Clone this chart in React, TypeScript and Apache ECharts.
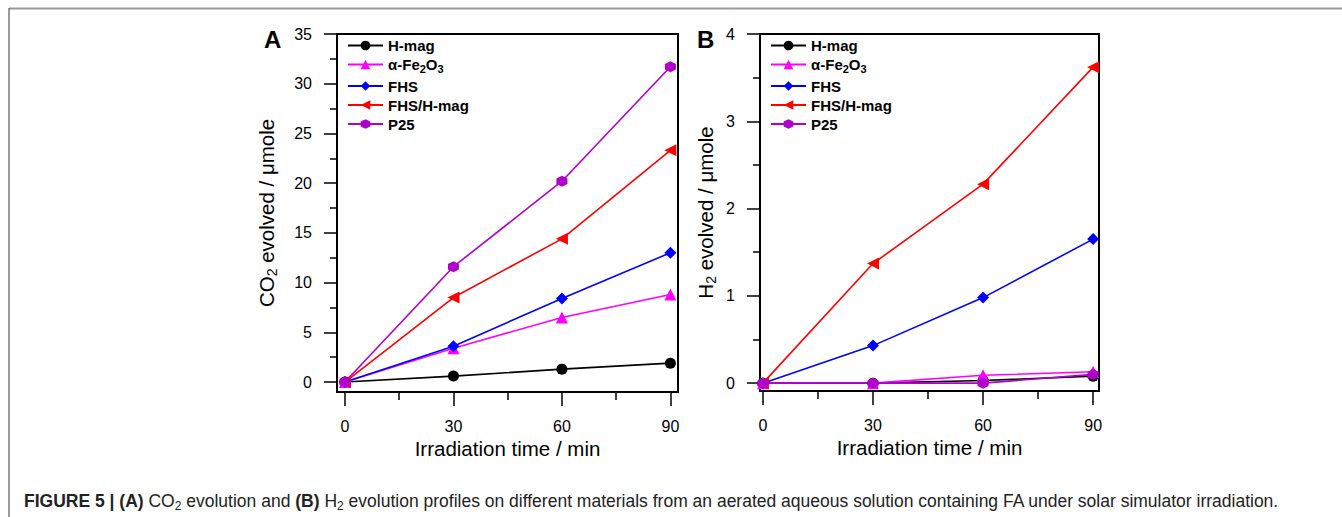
import React, { useEffect, useRef } from "react";
import * as echarts from "echarts";

const times = [0, 30, 60, 90];
const seriesNames = ["H-mag", "α-Fe2O3", "FHS", "FHS/H-mag", "P25"];

// Panel A: CO2 evolved / µmole
const co2HMag = [0, 0.6, 1.3, 1.9];
const co2Fe2O3 = [0, 3.4, 6.5, 8.8];
const co2FHS = [0, 3.6, 8.4, 13.0];
const co2FHSHMag = [0, 8.5, 14.4, 23.3];
const co2P25 = [0, 11.6, 20.2, 31.7];

// Panel B: H2 evolved / µmole
const h2HMag = [0, 0, 0.03, 0.08];
const h2Fe2O3 = [0, 0, 0.09, 0.13];
const h2FHS = [0, 0.43, 0.98, 1.65];
const h2FHSHMag = [0, 1.37, 2.28, 3.62];
const h2P25 = [0, 0, 0, 0.1];

const xTicks = [0, 30, 60, 90];
const xMinorTicks = [15, 45, 75];
const yTicksA = [0, 5, 10, 15, 20, 25, 30, 35];
const yMinorTicksA = [2.5, 7.5, 12.5, 17.5, 22.5, 27.5, 32.5];
const yTicksB = [0, 1, 2, 3, 4];
const yMinorTicksB = [0.5, 1.5, 2.5, 3.5];

const colors = ["#000000", "#ff00ff", "#0000ff", "#ff0000", "#b000cc"];
const symbols = [
  "circle",
  "triangle",
  "diamond",
  "path://M0,5L10,0L10,10Z",
  "path://M5,0L9.33,2.5L9.33,7.5L5,10L0.67,7.5L0.67,2.5Z",
];
const symbolSizes = [11, 12, 12, 12, 11];

const FONT = "'Liberation Sans', Arial, Helvetica, sans-serif";

export default function App() {
  const ref = useRef<HTMLDivElement>(null);

  useEffect(() => {
    if (!ref.current) return;
    const chart = echarts.init(ref.current, null, { renderer: "svg" });

    const grids = [
      { left: 337, top: 34, width: 341, height: 358 },
      { left: 760, top: 34, width: 339, height: 357 },
    ];
    const xRanges = [
      [-2.2, 92.1],
      [-0.8, 91.6],
    ];
    const yRanges = [
      [-1, 35],
      [-0.09, 4],
    ];
    const yTicks = [yTicksA, yTicksB];
    const yMinor = [yMinorTicksA, yMinorTicksB];
    const yNames = [
      "{a|CO}{s|2}{a| evolved / μmole}",
      "{a|H}{s|2}{a| evolved / μmole}",
    ];
    const yNameGaps = [58, 42];

    const nameRich = {
      a: { fontSize: 20.5, fontFamily: FONT, color: "#000", lineHeight: 26 },
      s: {
        fontSize: 14,
        fontFamily: FONT,
        color: "#000",
        lineHeight: 14,
        verticalAlign: "bottom",
      },
    };

    const tickStyle = { color: "#000", width: 1.5 };
    const xAxis: any[] = [];
    const yAxis: any[] = [];
    // main axes: grid 0 (A) and grid 1 (B)
    for (let g = 0; g < 2; g++) {
      xAxis.push({
        type: "value",
        gridIndex: g,
        position: "bottom",
        min: xRanges[g][0],
        max: xRanges[g][1],
        axisLine: { show: false, onZero: false },
        splitLine: { show: false },
        axisTick: {
          show: true,
          inside: false,
          customValues: xTicks,
          length: 14,
          lineStyle: tickStyle,
        },
        axisLabel: {
          customValues: xTicks,
          fontSize: 16,
          fontFamily: FONT,
          color: "#000",
          margin: 26,
        },
        name: "Irradiation time / min",
        nameLocation: "middle",
        nameGap: 46,
        nameMoveOverlap: false,
        nameTextStyle: { fontSize: 20.5, fontFamily: FONT, color: "#000" },
      });
      yAxis.push({
        type: "value",
        gridIndex: g,
        position: "left",
        min: yRanges[g][0],
        max: yRanges[g][1],
        axisLine: { show: false, onZero: false },
        splitLine: { show: false },
        axisTick: {
          show: true,
          inside: false,
          customValues: yTicks[g],
          length: 13,
          lineStyle: tickStyle,
        },
        axisLabel: {
          customValues: yTicks[g],
          fontSize: 16,
          fontFamily: FONT,
          color: "#000",
          margin: 25,
        },
        name: yNames[g],
        nameLocation: "middle",
        nameGap: yNameGaps[g],
        nameMoveOverlap: false,
        nameRotate: 90,
        nameTextStyle: { rich: nameRich },
      });
    }
    // minor-tick axes: grid 2 (over A) and grid 3 (over B)
    for (let g = 0; g < 2; g++) {
      xAxis.push({
        type: "value",
        gridIndex: g + 2,
        position: "bottom",
        min: xRanges[g][0],
        max: xRanges[g][1],
        axisLine: { show: false, onZero: false },
        splitLine: { show: false },
        axisTick: {
          show: true,
          inside: false,
          customValues: xMinorTicks,
          length: 8,
          lineStyle: tickStyle,
        },
        axisLabel: { show: false },
      });
      yAxis.push({
        type: "value",
        gridIndex: g + 2,
        position: "left",
        min: yRanges[g][0],
        max: yRanges[g][1],
        axisLine: { show: false, onZero: false },
        splitLine: { show: false },
        axisTick: {
          show: true,
          inside: false,
          customValues: yMinor[g],
          length: 7,
          lineStyle: tickStyle,
        },
        axisLabel: { show: false },
      });
    }

    const dataSets = [
      [co2HMag, co2Fe2O3, co2FHS, co2FHSHMag, co2P25],
      [h2HMag, h2Fe2O3, h2FHS, h2FHSHMag, h2P25],
    ];
    const series: any[] = [];
    for (let g = 0; g < 2; g++) {
      dataSets[g].forEach((vals, i) => {
        series.push({
          type: "line",
          name: seriesNames[i],
          xAxisIndex: g,
          yAxisIndex: g,
          data: times.map((t, k) => [t, vals[k]]),
          symbol: symbols[i],
          symbolSize: symbolSizes[i],
          showSymbol: true,
          clip: false,
          lineStyle: { color: colors[i], width: 1.6 },
          itemStyle: { color: colors[i] },
          emphasis: { disabled: true },
        });
      });
    }

    const legendRich = {
      b: { fontSize: 15, fontWeight: "bold", fontFamily: FONT, color: "#000", lineHeight: 20 },
      s: {
        fontSize: 11,
        fontWeight: "bold",
        fontFamily: FONT,
        color: "#000",
        verticalAlign: "bottom",
        lineHeight: 11,
      },
    };
    const legendFormatter = (name: string) =>
      name === "α-Fe2O3" ? "{b|α-Fe}{s|2}{b|O}{s|3}" : "{b|" + name + "}";
    const legendBase = {
      orient: "vertical",
      top: 38,
      itemWidth: 35,
      itemHeight: 12,
      itemGap: 4,
      padding: 0,
      data: seriesNames,
      formatter: legendFormatter,
      selectedMode: false,
      textStyle: {
        fontSize: 15,
        fontWeight: "bold",
        fontFamily: FONT,
        color: "#000",
        rich: legendRich,
      },
    };

    const capRich = {
      b: { fontSize: 17.5, fontWeight: "bold", fontFamily: FONT, fill: "#222", lineHeight: 22 },
      s: { fontSize: 12, fontFamily: FONT, fill: "#222", verticalAlign: "bottom", lineHeight: 12 },
      n: { fontSize: 17.5, fontFamily: FONT, fill: "#222", lineHeight: 22 },
    };

    chart.setOption({
      animation: false,
      textStyle: { fontFamily: FONT },
      grid: [
        ...grids.map((g) => ({
          ...g,
          show: true,
          borderColor: "#000",
          borderWidth: 2,
          backgroundColor: "transparent",
        })),
        ...grids.map((g) => ({ ...g, show: false })),
      ],
      xAxis,
      yAxis,
      legend: [
        { ...legendBase, left: 347 },
        { ...legendBase, left: 770 },
      ],
      series,
      graphic: [
        {
          type: "line",
          shape: { x1: 9, y1: 8.5, x2: 1342, y2: 8.5 },
          style: { stroke: "#999", lineWidth: 2 },
        },
        {
          type: "line",
          shape: { x1: 9, y1: 8, x2: 9, y2: 517 },
          style: { stroke: "#777", lineWidth: 1.5 },
        },
        {
          type: "text",
          left: 264,
          top: 27,
          style: { text: "A", fontSize: 24, fontWeight: "bold", fontFamily: FONT, fill: "#000" },
        },
        {
          type: "text",
          left: 697,
          top: 27,
          style: { text: "B", fontSize: 24, fontWeight: "bold", fontFamily: FONT, fill: "#000" },
        },
        {
          type: "text",
          left: 24,
          top: 492,
          style: {
            text:
              "{b|FIGURE 5 | (A)}{n| CO}{s|2}{n| evolution and }{b|(B)}{n| H}{s|2}{n| evolution profiles on different materials from an aerated aqueous solution containing FA under solar simulator irradiation.}",
            rich: capRich,
          },
        },
      ],
    });

    return () => chart.dispose();
  }, []);

  return (
    <div
      ref={ref}
      style={{ position: "absolute", left: 0, top: 0, width: 1342, height: 517, background: "#fff" }}
    />
  );
}
